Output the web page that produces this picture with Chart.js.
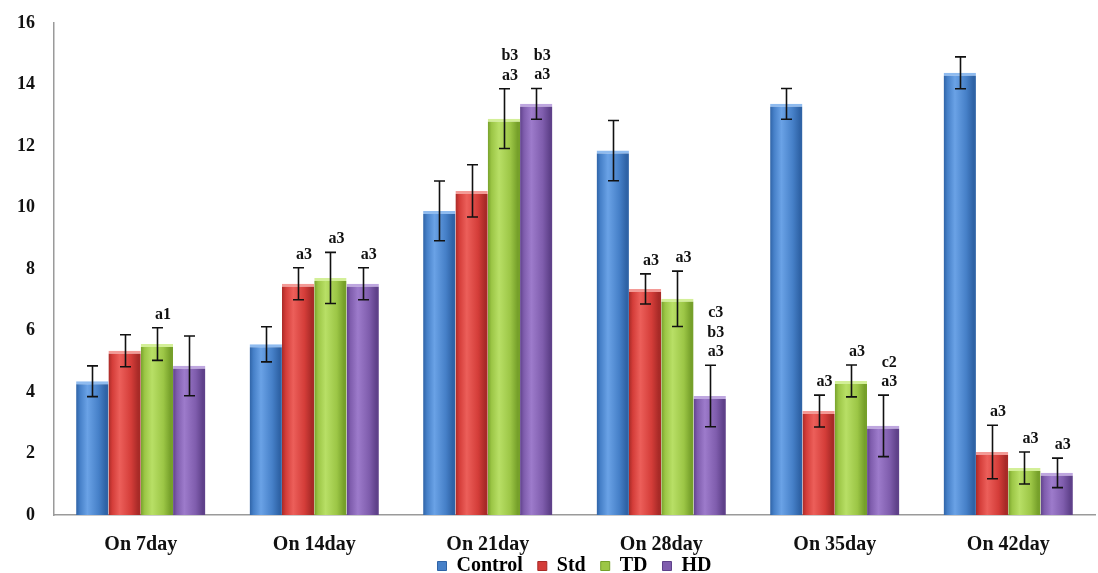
<!DOCTYPE html>
<html>
<head>
<meta charset="utf-8">
<script src="https://cdn.jsdelivr.net/npm/chart.js@4/dist/chart.umd.min.js"></script>
<style>
html,body{margin:0;padding:0;background:#fff;}
#wrap{width:1098px;height:573px;position:relative;}
</style>
</head>
<body>
<div id="wrap"><canvas id="c" width="1098" height="573"></canvas></div>
<script>
const categories = ['On 7day', 'On 14day', 'On 21day', 'On 28day', 'On 35day', 'On 42day'];
const seriesNames = ['Control', 'Std', 'TD', 'HD'];
const controlValues = [4.35, 5.55, 9.89, 11.85, 13.37, 14.38];
const stdValues = [5.34, 7.52, 10.54, 7.35, 3.38, 2.05];
const tdValues = [5.56, 7.71, 12.89, 7.03, 4.36, 1.53];
const hdValues = [4.85, 7.52, 13.37, 3.87, 2.9, 1.37];
const controlErr = [0.5, 0.57, 0.97, 0.98, 0.5, 0.52];
const stdErr = [0.52, 0.52, 0.85, 0.49, 0.52, 0.87];
const tdErr = [0.53, 0.83, 0.97, 0.9, 0.52, 0.52];
const hdErr = [0.97, 0.52, 0.5, 1.0, 1.0, 0.48];
const controlLabels = ['', '', '', '', '', ''];
const stdLabels = ['', 'a3', '', 'a3', 'a3', 'a3'];
const tdLabels = ['a1', 'a3', 'b3\na3', 'a3', 'a3', 'a3'];
const hdLabels = ['', 'a3', 'b3\na3', 'c3\nb3\na3', 'c2\na3', 'a3'];
const yTicks = [0, 2, 4, 6, 8, 10, 12, 14, 16];

const palette = [
  {base:'#4680c8', dark:'#2f63a6', light:'#6aa2e6', cap:'#8fbbef'},
  {base:'#d43d39', dark:'#a82a27', light:'#ec5f5a', cap:'#f39a96'},
  {base:'#9cc646', dark:'#76a02a', light:'#b8df66', cap:'#d3ef98'},
  {base:'#7f5dad', dark:'#5f418a', light:'#9d7bcb', cap:'#bea6df'}
];
const values = [controlValues, stdValues, tdValues, hdValues];
const errs = [controlErr, stdErr, tdErr, hdErr];
const notes = [controlLabels, stdLabels, tdLabels, hdLabels];
const SERIF = '"Liberation Serif", "Times New Roman", serif';

function barFill(i) {
  return function(c) {
    const p = palette[i];
    const meta = c.chart.getDatasetMeta(c.datasetIndex);
    const el = meta && meta.data[c.dataIndex];
    if (!el || typeof el.x !== 'number' || !el.width) return p.base;
    const l = el.x - el.width / 2, r = el.x + el.width / 2;
    const g = c.chart.ctx.createLinearGradient(l, 0, r, 0);
    g.addColorStop(0, p.dark);
    g.addColorStop(0.12, p.base);
    g.addColorStop(0.35, p.light);
    g.addColorStop(0.7, p.base);
    g.addColorStop(0.92, p.dark);
    g.addColorStop(1, p.dark);
    return g;
  };
}

const datasets = seriesNames.map((n, i) => ({
  label: n,
  data: values[i],
  backgroundColor: barFill(i),
  borderColor: palette[i].cap,
  borderWidth: {top: 3, left: 0, right: 0, bottom: 0},
  borderSkipped: 'bottom',
  categoryPercentage: 0.745,
  barPercentage: 1.0
}));

const errorBars = {
  id: 'errorBars',
  afterDatasetsDraw(chart) {
    const ctx = chart.ctx, y = chart.scales.y;
    ctx.save();
    ctx.strokeStyle = '#111';
    ctx.lineWidth = 1.6;
    chart.data.datasets.forEach((ds, di) => {
      const meta = chart.getDatasetMeta(di);
      meta.data.forEach((el, j) => {
        const v = values[di][j], e = errs[di][j];
        const top = y.getPixelForValue(v + e), bot = y.getPixelForValue(v - e);
        const x = Math.round(el.x) + 0.5;
        ctx.beginPath();
        ctx.moveTo(x, top); ctx.lineTo(x, bot);
        ctx.moveTo(x - 5.5, top); ctx.lineTo(x + 5.5, top);
        ctx.moveTo(x - 5.5, bot); ctx.lineTo(x + 5.5, bot);
        ctx.stroke();
        const txt = notes[di][j];
        if (txt) {
          const lines = txt.split('\n');
          ctx.fillStyle = '#111';
          ctx.font = 'bold 16px ' + SERIF;
          ctx.textAlign = 'center';
          ctx.textBaseline = 'alphabetic';
          for (let k = 0; k < lines.length; k++) {
            const line = lines[lines.length - 1 - k];
            ctx.fillText(line, el.x + 6, top - 9 - k * 19.5);
          }
        }
      });
    });
    ctx.restore();
  }
};

const chart = new Chart(document.getElementById('c'), {
  type: 'bar',
  data: {labels: categories, datasets},
  options: {
    responsive: false,
    animation: false,
    devicePixelRatio: 1,
    layout: {padding: {top: 0, right: 3, left: 0, bottom: -13}},
    plugins: {
      tooltip: {enabled: false},
      legend: {
        position: 'bottom',
        fullSize: false,
        labels: {
          font: {family: SERIF, size: 20, weight: 'bold', lineHeight: 1},
          color: '#111',
          boxWidth: 9,
          boxHeight: 9,
          padding: 0,
          generateLabels(chart) {
            return seriesNames.map((n, i) => ({
              text: i < seriesNames.length - 1 ? n + '   ' : n,
              fillStyle: palette[i].base,
              strokeStyle: palette[i].dark,
              lineWidth: 1,
              datasetIndex: i,
              hidden: false
            }));
          }
        }
      }
    },
    scales: {
      x: {
        afterFit(s) { s.height = 41; },
        grid: {display: false, drawTicks: false},
        border: {display: true, color: '#9a9a9a', width: 1.5},
        ticks: {font: {family: SERIF, size: 20, weight: 'bold'}, color: '#111', padding: 18}
      },
      y: {
        min: 0, max: 16,
        afterFit(s) { s.width = 54; s.paddingTop = 23; },
        afterBuildTicks(s) { s.ticks = yTicks.map(v => ({value: v})); },
        grid: {display: false, drawTicks: false},
        border: {display: true, color: '#9a9a9a', width: 1.5},
        ticks: {font: {family: SERIF, size: 18, weight: 'bold'}, color: '#111', padding: 19}
      }
    }
  },
  plugins: [errorBars]
});
chart.update();
</script>
</body>
</html>
